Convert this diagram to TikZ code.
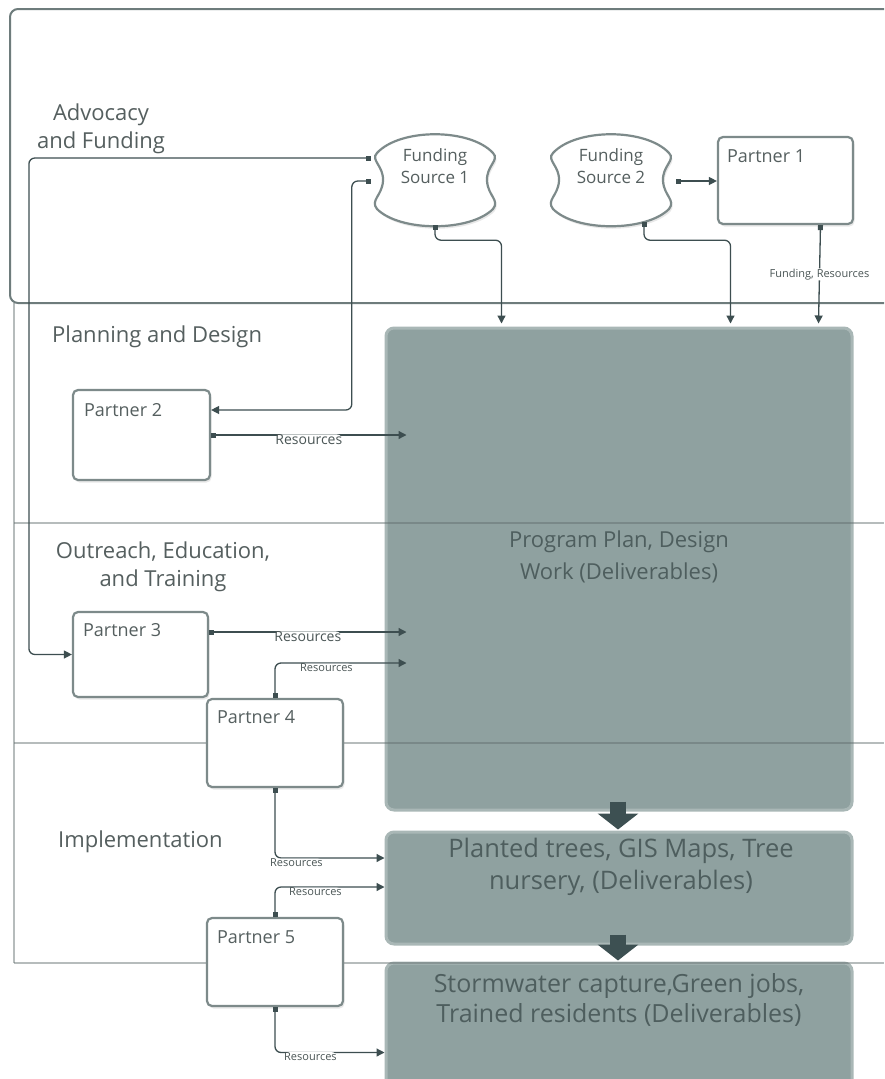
\documentclass[tikz,border=0pt]{standalone}
\usepackage{fontspec}
\setmainfont{Open Sans}
\usetikzlibrary{arrows.meta,calc,shadows}
\definecolor{connc}{HTML}{3D4E50}
\definecolor{boxfill}{HTML}{8FA1A0}
\definecolor{boxborder}{HTML}{A9B7B6}
\definecolor{boxtext}{HTML}{4E5E5E}
\definecolor{pborder}{HTML}{7D8A8A}
\definecolor{lanetext}{HTML}{555F5F}
\definecolor{topborder}{HTML}{6E7C7C}
\definecolor{sepline}{HTML}{5F6B6B}
\definecolor{blkc}{HTML}{3D5052}
\definecolor{labtext}{HTML}{4A5555}
\begin{document}
\begin{tikzpicture}[x=1pt,y=-1pt,
  lane/.style={font=\fontsize{22}{28}\selectfont, text=lanetext, align=center, inner sep=0pt},
  pbox/.style={draw=pborder, line width=2.2pt, rounded corners=5pt, fill=white,
     drop shadow={opacity=0.18, shadow xshift=1.5pt, shadow yshift=-2.5pt}},
  ptext/.style={font=\fontsize{18}{20}\selectfont, text=lanetext, anchor=west, inner sep=0pt},
  fsnode/.style={draw=none, minimum width=126pt, minimum height=90pt, inner sep=0pt},
  fsdraw/.style={draw=pborder, line width=2.2pt, fill=white,
     drop shadow={opacity=0.18, shadow xshift=1.5pt, shadow yshift=-2.5pt}},
  fstext/.style={font=\fontsize{17}{22}\selectfont, text=lanetext, align=center, inner sep=0pt},
  dbox/.style={fill=boxfill, draw=boxborder, line width=3pt, rounded corners=8pt},
  dtext/.style={text=boxtext, align=center, inner sep=0pt},
  conn/.style={draw=connc, line width=1.3pt, rounded corners=6pt,
     {Square[length=5pt,width=5pt]}-{Triangle[length=8pt,width=8pt]}},
  rlab/.style={font=\fontsize{14}{15}\selectfont, text=labtext, fill=white, inner sep=0.5pt},
  rlabs/.style={font=\fontsize{11}{12}\selectfont, text=labtext, fill=white, inner sep=0.5pt},
  sep/.style={draw=sepline, draw opacity=0.45, line width=1.2pt},
  blk/.style={draw=blkc, line width=16pt, -{Triangle[length=16pt,width=40pt]}}
]
\useasboundingbox (0,0) rectangle (884,1079);
\clip (0,0) rectangle (884,1079);
\fill[white] (0,0) rectangle (884,1079);

% top lane (Advocacy and Funding)
\draw[draw=topborder, line width=2pt, rounded corners=8pt] (10,9) rectangle (900,303);

% deliverable boxes
\node[dbox, minimum width=466pt, minimum height=482pt] (b1) at (619,569) {};
\node[dbox, minimum width=466pt, minimum height=112pt] (b2) at (619,888) {};
\node[dbox, minimum width=466pt, minimum height=137pt] (b3) at (619,1031.5) {};

% swim-lane separators
\draw[sep] (14,303) -- (14,963);
\draw[sep] (14,523) -- (884,523);
\draw[sep] (14,743) -- (884,743);
\draw[sep] (14,963) -- (884,963);

% lane labels
\node[lane] (l1) at (101,129) {Advocacy\\and Funding};
\node[lane, anchor=west] (l2) at (52,337) {Planning and Design};
\node[lane] (l3) at (163,567) {Outreach, Education,\\and Training};
\node[lane, anchor=west] (l4) at (58,842) {Implementation};

% deliverable texts
\node[dtext, font=\fontsize{22}{32}\selectfont] (t1) at ($(b1.center)+(0,-12)$) {Program Plan, Design\\Work (Deliverables)};
\node[dtext, font=\fontsize{25.5}{32}\selectfont] (t2) at ($(b2.center)+(2,-21)$) {Planted trees, GIS Maps, Tree\\nursery, (Deliverables)};
\node[dtext, font=\fontsize{25}{30}\selectfont] (t3) at ($(b3.center)+(0,-31.5)$) {Stormwater capture,Green jobs,\\Trained residents (Deliverables)};

% funding sources
\newcommand\wavyshape[1]{%
  \path[fsdraw] ($(#1.center)+(-58,-27)$)
    .. controls ($(#1.center)+(-35,-52)$) and ($(#1.center)+(35,-52)$) .. ($(#1.center)+(58,-27)$)
    .. controls ($(#1.center)+(65,-20)$) and ($(#1.center)+(51,-14)$) .. ($(#1.center)+(52,1)$)
    .. controls ($(#1.center)+(53,16)$) and ($(#1.center)+(65,20)$) .. ($(#1.center)+(58,29)$)
    .. controls ($(#1.center)+(35,52)$) and ($(#1.center)+(-35,52)$) .. ($(#1.center)+(-58,29)$)
    .. controls ($(#1.center)+(-65,20)$) and ($(#1.center)+(-53,16)$) .. ($(#1.center)+(-52,1)$)
    .. controls ($(#1.center)+(-51,-14)$) and ($(#1.center)+(-65,-20)$) .. cycle;}
\node[fsnode] (fs1) at (435,180) {};
\node[fsnode, minimum width=128pt] (fs2) at (611,180) {};
\wavyshape{fs1}
\wavyshape{fs2}
\node[fstext] (fs1t) at ($(fs1.center)+(0,-14)$) {Funding\\Source 1};
\node[fstext] (fs2t) at ($(fs2.center)+(0,-14)$) {Funding\\Source 2};

% partners
\node[pbox, minimum width=135pt, minimum height=87pt] (p1) at (785.5,180.5) {};
\node[pbox, minimum width=137pt, minimum height=90pt] (p2) at (141.5,435) {};
\node[pbox, minimum width=135pt, minimum height=85pt] (p3) at (140.5,654.5) {};
\node[pbox, minimum width=136pt, minimum height=88pt] (p4) at (275,743) {};
\node[pbox, minimum width=136pt, minimum height=88pt] (p5) at (275,962) {};
\node[ptext] at ($(p1.north west)+(10,20)$) {Partner 1};
\node[ptext] at ($(p2.north west)+(12,21)$) {Partner 2};
\node[ptext] at ($(p3.north west)+(11,19)$) {Partner 3};
\node[ptext] at ($(p4.north west)+(11,19)$) {Partner 4};
\node[ptext] at ($(p5.north west)+(11,20)$) {Partner 5};

% connectors
\draw[conn] ($(fs1.west)+(-1,-22)$) -| ($(p3.west)+(-43,0)$) -- (p3.west);
\draw[conn] ($(fs1.west)+(-1,1)$) -- ++(-19,0) |- ($(p2.east)+(0,-25)$);
\draw[conn] (fs1.south) -- ++(0,15) -| ($(b1.north west)+(117,-3)$);
\draw[conn] ($(fs2.south)+(33,-3)$) -- ++(0,18) -| ($(b1.north west)+(346,-3)$);
\draw[conn] ($(fs2.east)+(1,1)$) -- ($(p1.west)+(0,0.5)$);
\draw[conn] ($(p1.south)+(35,0)$) -- ($(b1.north west)+(434,-3)$)
   node[rlabs, pos=0.5] {Funding, Resources};
\draw[conn] (p2.east) -- ($(b1.west)+(22,-134)$)
   node[rlab, pos=0.5, yshift=-5pt] {Resources};
\draw[conn] ($(p3.east)+(0,-22.5)$) -- ($(b1.west)+(22,63)$)
   node[rlab, pos=0.5, yshift=-5pt] {Resources};
\draw[conn] (p4.north) |- ($(b1.west)+(22,94)$)
   node[rlabs, pos=0.5, anchor=west, xshift=24pt, yshift=-5pt] {Resources};
\draw[conn] (p4.south) |- ($(b2.west)+(0,-30)$)
   node[rlabs, pos=0.5, anchor=west, xshift=-6pt, yshift=-5pt] {Resources};
\draw[conn] (p5.north) |- ($(b2.west)+(0,-1)$)
   node[rlabs, pos=0.5, anchor=west, xshift=13pt, yshift=-5pt] {Resources};
\draw[conn] (p5.south) |- ($(b3.west)+(0,21)$)
   node[rlabs, pos=0.5, anchor=west, xshift=8pt, yshift=-4pt] {Resources};

% block arrows between deliverables
\draw[blk] ($(b1.south)+(-1,-10)$) -- ($(b2.north)+(-1,-1)$);
\draw[blk] ($(b2.south)+(-1,-11)$) -- ($(b3.north)+(-1,-1)$);
\end{tikzpicture}
\end{document}
